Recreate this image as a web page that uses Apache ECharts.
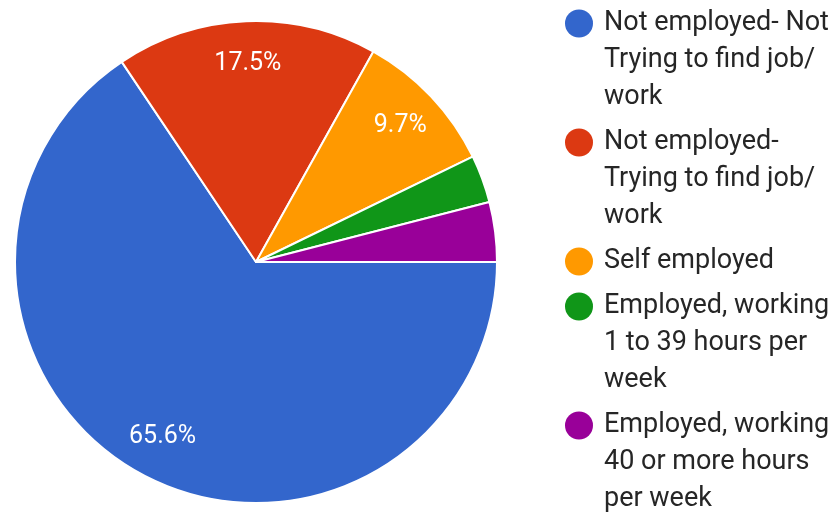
<!DOCTYPE html>
<html>
<head>
<meta charset="utf-8">
<script src="https://cdn.jsdelivr.net/npm/echarts@6/dist/echarts.min.js"></script>
<style>
  html, body { margin: 0; padding: 0; background: #fff; }
  #chart { width: 832px; height: 513px; }
</style>
</head>
<body>
<div id="chart"></div>
<script>
// Employment status of respondents
const categories = [
  'Not employed- Not Trying to find job/ work',
  'Not employed- Trying to find job/ work',
  'Self employed',
  'Employed, working 1 to 39 hours per week',
  'Employed, working 40 or more hours per week'
];
// Legend text, wrapped onto lines
const legendLines = [
  ['Not employed- Not', 'Trying to find job/', 'work'],
  ['Not employed-', 'Trying to find job/', 'work'],
  ['Self employed'],
  ['Employed, working', '1 to 39 hours per', 'week'],
  ['Employed, working', '40 or more hours', 'per week']
];
const shares = [65.6, 17.5, 9.7, 3.2, 4.0];
const colors = ['#3366cc', '#dc3912', '#ff9900', '#109618', '#990099'];

const FONT = 'Roboto, "Noto Sans", sans-serif';
const cx = 256, cy = 262, R = 241;

const pieData = categories.map((name, i) => ({
  name: name,
  value: shares[i],
  itemStyle: { color: colors[i] }
}));

// Rich legend: a coloured dot on the first line, indented continuation lines
const rich = {
  t: { fontFamily: FONT, fontSize: 27, lineHeight: 37, height: 37, color: '#262626' },
  g: { width: 11, height: 37, lineHeight: 37 },
  ind: { width: 39, height: 37, lineHeight: 37 }
};
colors.forEach((c, i) => {
  rich['d' + i] = { width: 28, height: 28, borderRadius: 14, backgroundColor: c };
});

const chart = echarts.init(document.getElementById('chart'), null, { renderer: 'canvas' });
chart.setOption({
  backgroundColor: '#ffffff',
  animation: false,
  legend: {
    orient: 'vertical',
    left: 565,
    top: 5,
    height: 700,
    icon: 'none',
    itemWidth: 0,
    itemHeight: 0,
    itemGap: 8,
    padding: 0,
    selectedMode: false,
    data: categories,
    formatter: function (name) {
      const i = categories.indexOf(name);
      return legendLines[i].map((line, k) =>
        (k === 0 ? '{d' + i + '|}{g|}' : '{ind|}') + '{t|' + line + '}'
      ).join('\n');
    },
    textStyle: { fontSize: 27, lineHeight: 37, rich: rich, padding: [0, 0, 0, -5] }
  },
  series: [
    {
      type: 'pie',
      center: [cx, cy],
      radius: [0, R],
      startAngle: 0,
      clockwise: true,
      avoidLabelOverlap: false,
      itemStyle: { borderColor: '#ffffff', borderWidth: 2 },
      label: { show: false },
      labelLine: { show: false },
      emphasis: { disabled: true },
      data: pieData
    },
    {
      // Percentage labels, placed toward the rim of each slice
      type: 'pie',
      center: [cx, cy],
      radius: [150, R],
      startAngle: 0,
      clockwise: true,
      silent: true,
      avoidLabelOverlap: false,
      itemStyle: { color: 'rgba(0,0,0,0)', borderWidth: 0 },
      label: {
        show: true,
        position: 'inside',
        color: '#ffffff',
        fontFamily: FONT,
        fontSize: 25,
        formatter: function (p) {
          return p.value >= 5 ? p.value.toFixed(1) + '%' : '';
        }
      },
      labelLine: { show: false },
      emphasis: { disabled: true },
      data: categories.map((name, i) => ({ name: name, value: shares[i] }))
    }
  ]
});
</script>
</body>
</html>
